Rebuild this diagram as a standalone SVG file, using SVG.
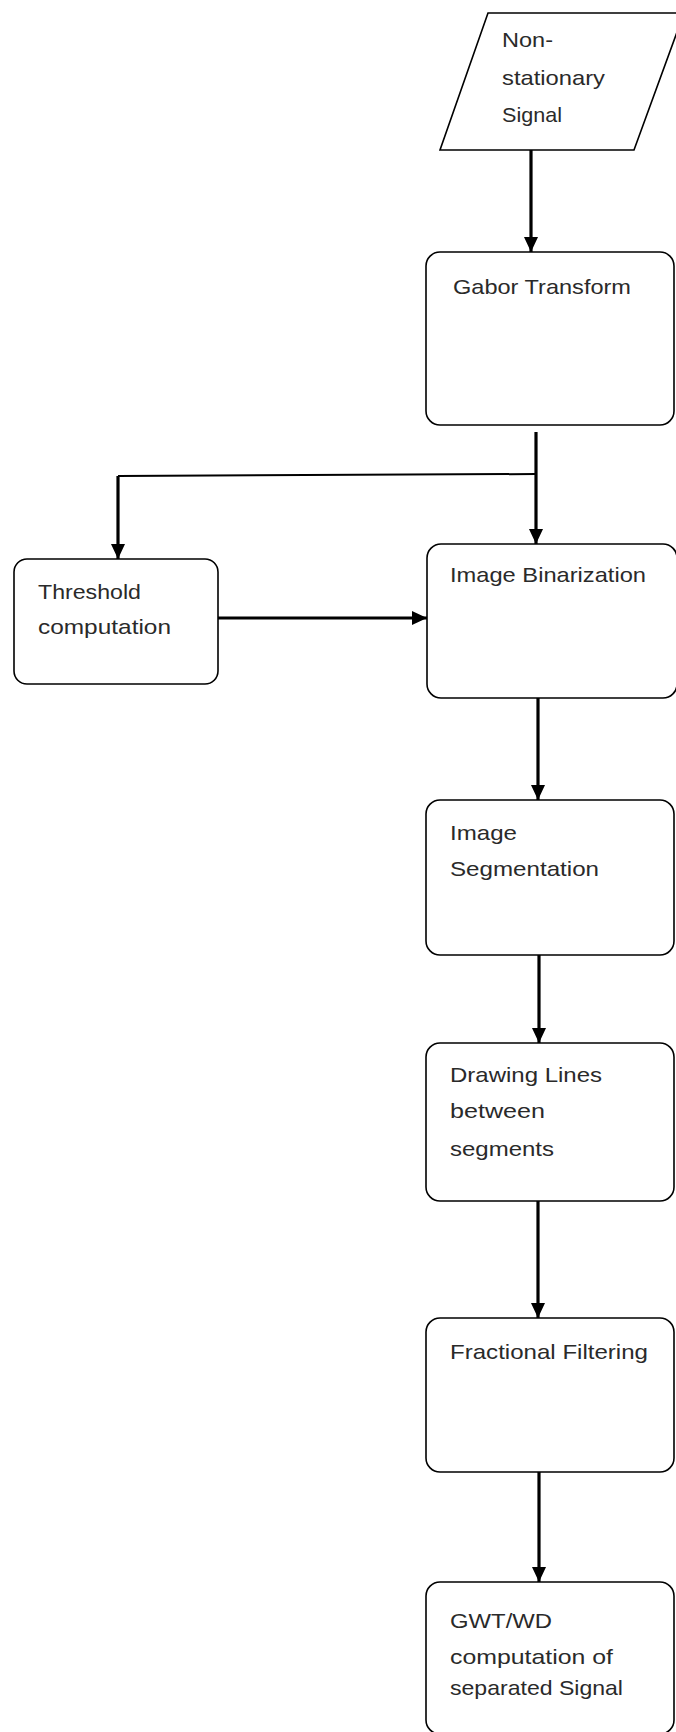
<svg xmlns="http://www.w3.org/2000/svg" width="676" height="1732" viewBox="0 0 676 1732">
<style>
  .box { fill: #ffffff; stroke: #000000; stroke-width: 1.6; }
  .lbl { font-family: "Liberation Sans", Arial, sans-serif; font-size: 21px; fill: #2a2a2a; }
  .conn { fill: none; stroke: #000000; stroke-width: 3.2; }
  .thin { fill: none; stroke: #000000; stroke-width: 2; }
</style>
<defs>
  <marker id="arr" markerUnits="userSpaceOnUse" markerWidth="15" markerHeight="14" refX="15" refY="7" orient="auto">
    <path d="M0,0 L15,7 L0,14 z" fill="#000000"/>
  </marker>
</defs>
<rect width="676" height="1732" fill="#ffffff"/>

<g id="connectors">
  <path class="conn" d="M531,150 L531,252" marker-end="url(#arr)"/>
  <path class="conn" d="M536,432 L536,544" marker-end="url(#arr)"/>
  <path class="thin" d="M536,474 L118,476"/>
  <path class="conn" d="M118,476 L118,559" marker-end="url(#arr)"/>
  <path class="conn" d="M218,618 L427,618" marker-end="url(#arr)"/>
  <path class="conn" d="M538,698 L538,800" marker-end="url(#arr)"/>
  <path class="conn" d="M539,955 L539,1043" marker-end="url(#arr)"/>
  <path class="conn" d="M538,1201 L538,1318" marker-end="url(#arr)"/>
  <path class="conn" d="M539,1472 L539,1582" marker-end="url(#arr)"/>
</g>

<g id="node-signal">
  <polygon class="box" points="488,13 684,13 634,150 440,150"/>
  <text class="lbl" x="502" y="47" textLength="51" lengthAdjust="spacingAndGlyphs">Non-</text>
  <text class="lbl" x="502" y="85" textLength="103" lengthAdjust="spacingAndGlyphs">stationary</text>
  <text class="lbl" x="502" y="122" textLength="60" lengthAdjust="spacingAndGlyphs">Signal</text>
</g>

<g id="node-gabor">
  <rect class="box" x="426" y="252" width="248" height="173" rx="14" ry="14"/>
  <text class="lbl" x="453" y="294" textLength="178" lengthAdjust="spacingAndGlyphs">Gabor Transform</text>
</g>

<g id="node-threshold">
  <rect class="box" x="14" y="559" width="204" height="125" rx="13" ry="13"/>
  <text class="lbl" x="38" y="599" textLength="103" lengthAdjust="spacingAndGlyphs">Threshold</text>
  <text class="lbl" x="38" y="634" textLength="133" lengthAdjust="spacingAndGlyphs">computation</text>
</g>

<g id="node-binarization">
  <rect class="box" x="427" y="544" width="250" height="154" rx="14" ry="14"/>
  <text class="lbl" x="450" y="582" textLength="196" lengthAdjust="spacingAndGlyphs">Image Binarization</text>
</g>

<g id="node-segmentation">
  <rect class="box" x="426" y="800" width="248" height="155" rx="14" ry="14"/>
  <text class="lbl" x="450" y="840" textLength="67" lengthAdjust="spacingAndGlyphs">Image</text>
  <text class="lbl" x="450" y="876" textLength="149" lengthAdjust="spacingAndGlyphs">Segmentation</text>
</g>

<g id="node-drawing">
  <rect class="box" x="426" y="1043" width="248" height="158" rx="14" ry="14"/>
  <text class="lbl" x="450" y="1082" textLength="152" lengthAdjust="spacingAndGlyphs">Drawing Lines</text>
  <text class="lbl" x="450" y="1118" textLength="95" lengthAdjust="spacingAndGlyphs">between</text>
  <text class="lbl" x="450" y="1156" textLength="104" lengthAdjust="spacingAndGlyphs">segments</text>
</g>

<g id="node-fractional">
  <rect class="box" x="426" y="1318" width="248" height="154" rx="14" ry="14"/>
  <text class="lbl" x="450" y="1359" textLength="198" lengthAdjust="spacingAndGlyphs">Fractional Filtering</text>
</g>

<g id="node-gwt">
  <rect class="box" x="426" y="1582" width="248" height="152" rx="14" ry="14"/>
  <text class="lbl" x="450" y="1628" textLength="102" lengthAdjust="spacingAndGlyphs">GWT/WD</text>
  <text class="lbl" x="450" y="1664" textLength="163" lengthAdjust="spacingAndGlyphs">computation of</text>
  <text class="lbl" x="450" y="1695" textLength="173" lengthAdjust="spacingAndGlyphs">separated Signal</text>
</g>
</svg>
